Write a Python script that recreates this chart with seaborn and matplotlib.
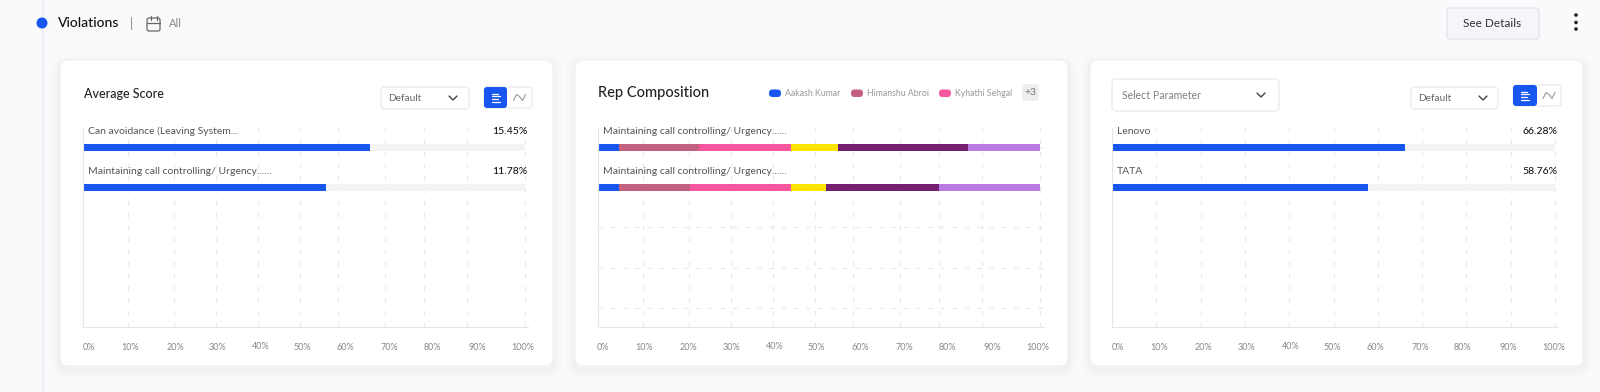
import numpy as np
import pandas as pd
import seaborn as sns
import matplotlib.pyplot as plt
from matplotlib.patches import FancyBboxPatch, Rectangle, Circle

# data
rows_left = ["Can avoidance (Leaving System...", "Maintaining call controlling/ Urgency......"]
bars_left = [65.0, 54.9]
values_left = ["15.45%", "11.78%"]

rows_mid = ["Maintaining call controlling/ Urgency......", "Maintaining call controlling/ Urgency......"]
rep_names = ["Aakash Kumar", "Himanshu Abroi", "Kyhathi Sehgal"]
rep_1 = [4.8, 4.8]
rep_2 = [18.1, 16.0]
rep_3 = [20.8, 22.9]
rep_4 = [10.6, 7.9]
rep_5 = [29.5, 25.5]
rep_6 = [16.2, 22.8]

rows_right = ["Lenovo", "TATA"]
bars_right = [66.1, 57.8]
values_right = ["66.28%", "58.76%"]

x_labels = ["0%", "10%", "20%", "30%", "40%", "50%", "60%", "70%", "80%", "90%", "100%"]

# the grid and tick labels are not evenly spaced in the first two cards
grid_skewed = [10.2, 20.5, 30.2, 39.7, 49.1, 57.8, 68.4, 77.2, 86.9, 100]
grid_even = [10, 20, 30, 40, 50, 60, 70, 80, 90, 100]
lab_left = [1.4, 10.6, 20.8, 30.5, 40.2, 49.7, 59.4, 69.3, 79.0, 89.2, 99.5]
lab_mid = [1.1, 10.4, 20.4, 30.1, 40.0, 49.5, 59.3, 69.2, 79.0, 89.1, 99.5]
lab_right = [1.4, 10.6, 20.6, 30.3, 40.3, 49.8, 59.5, 69.5, 79.2, 89.4, 99.8]

BLUE = "#1757F0"
rep_colors = [BLUE, "#C4607F", "#F7579F", "#FBE400", "#752070", "#BA7AE3"]
W, H = 1600, 392

sns.set_theme(style="white")
plt.rcParams["font.family"] = ["Lato", "DejaVu Sans"]

fig = plt.figure(figsize=(W / 100, H / 100), dpi=100, facecolor="#F9FAFC")

# page layer in pixels, y going down like the screenshot
bg = fig.add_axes([0, 0, 1, 1], zorder=0)
bg.set_xlim(0, W)
bg.set_ylim(H, 0)
bg.axis("off")


def box(x0, y0, x1, y1, fc="white", ec="none", r=4, lw=1, alpha=1, z=2):
    bg.add_patch(FancyBboxPatch((x0, y0), x1 - x0, y1 - y0,
                                boxstyle=f"round,pad=0,rounding_size={r}",
                                fc=fc, ec=ec, lw=lw, alpha=alpha, zorder=z))


def label(x, y, s, size=7.5, color="#555555", ha="left", weight="normal"):
    bg.text(x, y, s, fontsize=size, color=color, ha=ha, va="center", weight=weight, zorder=5)


def chevron(x, y):
    bg.plot([x - 4, x, x + 4], [y - 2, y + 2, y - 2], color="#444444", lw=1, zorder=5)


def dropdown(x0, y0, x1, y1, s, tx, cx, size=7.3, color="#666666"):
    box(x0, y0, x1, y1, ec="#ECECEF", r=4)
    label(tx, (y0 + y1) / 2, s, size, color)
    chevron(cx, (y0 + y1) / 2)


def toggle(x0, y0, xm, x1, y1):
    box(x0, y0, x1, y1, ec="#ECECEF", r=3)
    box(x0, y0, xm, y1, fc=BLUE, r=3, z=3)
    cx = (x0 + xm) / 2
    cy = (y0 + y1) / 2
    for dy, ln in zip([-4, -1.5, 1, 4], [6, 8, 6, 8]):
        bg.plot([cx - 4, cx - 4 + ln], [cy + dy, cy + dy], color="white", lw=0.9, zorder=5)
    wx = (xm + x1) / 2
    bg.plot([wx - 6, wx - 3, wx, wx + 3, wx + 6],
            [cy + 3, cy - 3, cy - 1, cy + 3, cy - 3], color="#999999", lw=0.8, zorder=5)


# timeline and header
bg.add_patch(Rectangle((41.5, 0), 2, H, fc="#EEF0F4", ec="none", zorder=1))
bg.add_patch(Circle((42, 23), 5.5, fc=BLUE, ec="none", zorder=4))
label(58, 23, "Violations", 10, "#111111", weight=500)
bg.plot([131, 131], [17, 29], color="#999999", lw=0.8)
bg.add_patch(FancyBboxPatch((147, 18), 13, 13, boxstyle="round,pad=0,rounding_size=2",
                            fc="none", ec="#666666", lw=0.9))
bg.plot([147, 160], [22.5, 22.5], color="#666666", lw=0.9)
for cx in [150.5, 156.5]:
    bg.plot([cx, cx], [16, 20], color="#666666", lw=0.9)
label(169, 23, "All", 8, "#888888")
box(1447, 8, 1539, 39, fc="#F6F6FA", ec="#E4E4EA", r=3)
label(1492, 23, "See Details", 8.5, "#333333", ha="center")
for dy in [15, 22.5, 29]:
    bg.add_patch(Circle((1576, dy), 1.8, fc="#222222", ec="none", zorder=4))

# cards with a soft shadow
for x0, x1 in [(60, 553), (575, 1068), (1090, 1583)]:
    for grow, a in [(9, 0.012), (6, 0.018), (3, 0.025)]:
        box(x0 - grow, 60 - grow + 3, x1 + grow, 366 + grow + 3, fc="#5A6070", r=8 + grow, alpha=a, z=1)
    box(x0, 60, x1, 366, ec="#F0F1F4", r=8)

# controls in the cards
label(83.5, 93.5, "Average Score", 9, "#222222", weight=500)
dropdown(381, 87, 469, 109, "Default", 388.5, 453)
toggle(484, 87, 507, 532, 108)

label(598, 92.5, "Rep Composition", 10.5, "#222222", weight=500)
for cx, tx, name, c in zip([769, 851, 939], [785, 867, 955], rep_names, rep_colors):
    box(cx, 89.5, cx + 12, 97, fc=c, r=3.5, z=4)
    label(tx, 93.5, name, 6.3, "#999999")
box(1022, 84, 1039, 101, fc="#EEEEEE", r=3)
label(1030.5, 92.5, "+3", 7.5, "#777777", ha="center")

dropdown(1112, 79, 1279, 111, "Select Parameter", 1122, 1261, size=7.6, color="#808080")
dropdown(1411, 87, 1498, 109, "Default", 1418, 1483)
toggle(1513, 85, 1537, 1561, 106)


def chart(x0, w):
    # 100% sits at x0 + w, the axis line runs on a little past it
    left, right, top, bottom = x0, x0 + w * 1.006, 128, 327
    ax = fig.add_axes([left / W, 1 - bottom / H, (right - left) / W, (bottom - top) / H], zorder=3)
    ax.patch.set_alpha(0)
    return ax


def finish(ax, rows, grid_pos, label_pos, values=None, horizontal=False):
    ax.set_xlim(0, 100.6)
    # one row is 40 pixels, first bar centre 19.5 pixels under the top
    ax.set_ylim(4.4875, -0.4875)
    ax.set_xlabel("")
    ax.set_ylabel("")
    ax.set_xticks(grid_pos)
    ax.set_xticklabels([])
    ax.set_xticks(label_pos, labels=x_labels, minor=True)
    ax.tick_params(axis="x", which="major", length=0)
    ax.tick_params(axis="x", which="minor", length=0, pad=11.5, labelsize=6.5, labelcolor="#888888")
    ax.xaxis.get_minor_ticks()[4].set_pad(10.8)
    ax.set_axisbelow(True)
    grid_kw = dict(color="#E8E8E8", lw=0.8, ls=(0, (4, 7)))
    ax.grid(True, axis="x", which="major", **grid_kw)
    ax.set_yticks(range(5))
    ax.set_yticklabels([])
    ax.tick_params(axis="y", length=0)
    if horizontal:
        ax.grid(True, axis="y", **grid_kw)
    else:
        ax.grid(False, axis="y")
    for s in ["top", "right"]:
        ax.spines[s].set_visible(False)
    for s in ["left", "bottom"]:
        ax.spines[s].set_color("#E6E6E6")
        ax.spines[s].set_linewidth(0.8)
    for i, name in enumerate(rows):
        ax.text(1.1, i - 0.41, name, fontsize=7.5, color="#555555", va="center", ha="left")
        if values is not None:
            ax.text(100.6, i - 0.41, values[i], fontsize=7.5, color="#111111", va="center", ha="right", weight=500)


def single(x0, w, rows, bars, values, grid_pos, label_pos):
    ax = chart(x0, w)
    df = pd.DataFrame({"row": rows, "value": bars, "full": [100] * len(rows)})
    sns.barplot(data=df, y="row", x="full", orient="h", color="#F3F3F3", saturation=1,
                width=0.175, linewidth=0, ax=ax)
    sns.barplot(data=df, y="row", x="value", orient="h", color=BLUE, saturation=1,
                width=0.175, linewidth=0, ax=ax)
    finish(ax, rows, grid_pos, label_pos, values)


single(83, 442, rows_left, bars_left, values_left, grid_skewed, lab_left)
single(1112, 443, rows_right, bars_right, values_right, grid_even, lab_right)

# stacked card
ax = chart(598, 442)
rep = pd.DataFrame(np.array([rep_1, rep_2, rep_3, rep_4, rep_5, rep_6]).T,
                   columns=["r1", "r2", "r3", "r4", "r5", "r6"])
rep["row"] = ["row 1", "row 2"]
start = np.zeros(2)
for col, c in zip(["r1", "r2", "r3", "r4", "r5", "r6"], rep_colors):
    sns.barplot(data=rep, y="row", x=col, orient="h", left=start, color=c, saturation=1,
                width=0.175, linewidth=0, ax=ax)
    start = start + rep[col].to_numpy()
finish(ax, rows_mid, grid_skewed, lab_mid, horizontal=True)

fig.savefig("out.png", dpi=100, facecolor=fig.get_facecolor())
